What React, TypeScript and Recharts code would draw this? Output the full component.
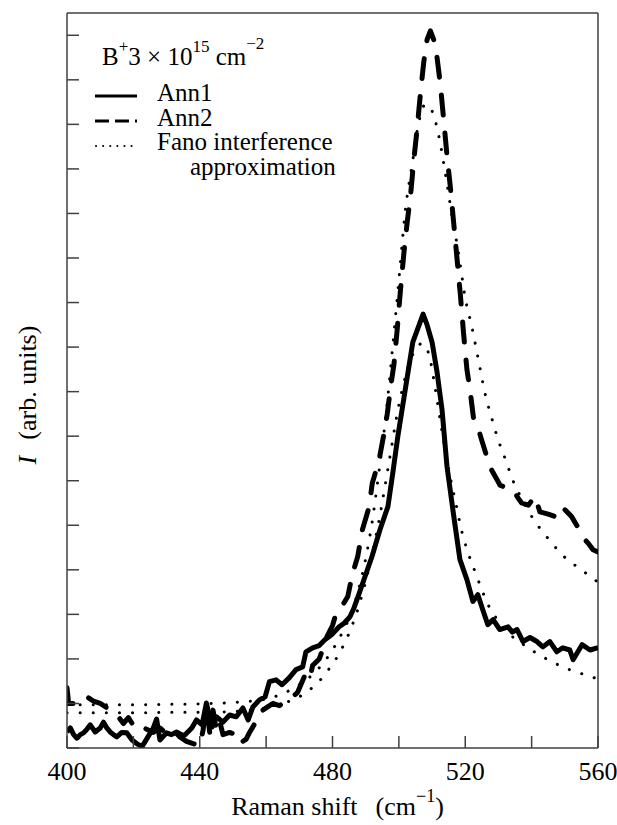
import { Label, Legend, Line, LineChart, ReferenceLine, XAxis, YAxis } from 'recharts';

// Raman spectra of B+ implanted Si (3e15 cm^-2) after two anneals, with Fano fits
type Pt = [number, number];

const SERIF = '"Liberation Serif", "Times New Roman", serif';
const AXIS_COLOR = '#404040';

// [Raman shift (cm^-1), intensity (arb. units)]
const ANN1: Pt[] = [
  [400, 0.36], [401, 0.45], [402, 0.3], [403, 0.22], [404, 0.3], [405, 0.34], [406, 0.42],
  [407, 0.52], [408.5, 0.36], [410, 0.45], [411, 0.58], [412, 0.45], [413, 0.36], [414, 0.3],
  [415, 0.25], [416.5, 0.35], [418, 0.34], [419.6, 0.18], [421, 0.1], [422.6, 0.03],
  [424.4, 0.25], [426, 0.45], [427, 0.65], [428, 0.18], [430, 0.34], [431.5, 0.3], [433, 0.36],
  [434.5, 0.3], [435.5, 0.29], [437.6, 0.45], [439, 0.63], [440.7, 0.52], [442, 1.01],
  [443.7, 0.47], [445, 0.7], [447, 0.58], [449, 0.74], [451, 0.7], [453, 0.9], [454.6, 0.63],
  [456, 0.92], [458, 1.08], [459.7, 1.15], [461, 1.49], [463, 1.53], [464.8, 1.42], [467, 1.58],
  [469, 1.76], [471, 1.82], [472, 2.16], [474, 2.25], [476, 2.3], [477.7, 2.43], [479.8, 2.55],
  [482, 2.72], [483.5, 2.8], [485.3, 2.95], [486.5, 3.15], [487.7, 3.4], [489.8, 3.85],
  [491.9, 4.3], [494.3, 4.9], [496.7, 5.42], [498.2, 6.19], [499.7, 7.0], [501.8, 7.99],
  [504.2, 9.11], [507.3, 9.74], [508.5, 9.5], [510, 9.11], [511.5, 8.44], [513, 7.6],
  [514.5, 6.32], [516.4, 5.28], [518.4, 4.23], [520.5, 3.78], [522.3, 3.29], [523.8, 3.44],
  [525.3, 3.1], [526.8, 2.77], [528.4, 2.88], [530.4, 2.66], [532.9, 2.72], [534.2, 2.6],
  [535.6, 2.66], [537.4, 2.39], [539.5, 2.48], [541.6, 2.39], [543.4, 2.27], [545.5, 2.39],
  [547.6, 2.16], [549.4, 2.25], [551.5, 2.2], [552.5, 1.98], [555.2, 2.32], [557.6, 2.2],
  [560, 2.25],
];

const ANN2: Pt[] = [
  [400, 1.35], [400.5, 1.0], [402, 1.0], [404, 1.12], [406, 1.15], [408, 1.05], [410, 1.0],
  [411.5, 0.93], [413, 0.85], [415, 0.75], [417, 0.55], [418.5, 0.68], [420.5, 0.45], [422, 0.5],
  [424, 0.42], [426, 0.35], [428, 0.45], [430, 0.32], [432, 0.4], [434, 0.25], [436, 0.15],
  [438, 0.1], [440, 0.05], [441, 0.4], [442, 0.98], [443, 0.35], [444, 0.85], [445, 0.4],
  [446, 0.6], [447, 0.3], [449, 0.35], [451, 0.3], [452, 0.35], [453, 0.15], [454, 0.2],
  [455, 0.35], [457, 0.6], [458, 0.8], [460, 0.9], [462, 1.0], [464, 0.95], [466.5, 1.08],
  [468, 1.15], [469.5, 1.25], [471.5, 1.6], [473, 1.5], [474, 1.85], [476, 2.0], [477, 2.2],
  [478, 2.45], [480, 2.75], [481, 3.0], [483, 3.2], [484.6, 3.4], [486, 3.9], [487.6, 4.3],
  [489, 4.9], [491, 5.4], [492, 5.95], [494, 6.45], [495.5, 7.05], [496.5, 7.5], [497.5, 8.1],
  [498.5, 8.6], [499.5, 9.4], [500.5, 10.3], [501.5, 11.1], [502.5, 11.8], [503.5, 12.4],
  [504.5, 13.2], [505.5, 13.9], [506.5, 14.7], [507.5, 15.4], [508.5, 15.9], [509.5, 16.1],
  [510.5, 15.9], [511.5, 15.5], [512.5, 14.9], [513.5, 14.1], [514.5, 13.3], [515.5, 12.6],
  [516.5, 11.8], [517.5, 11.0], [518.5, 10.2], [519.5, 9.3], [520.5, 8.5], [521.5, 8.0],
  [522.5, 7.4], [524, 7.15], [525, 6.9], [527.5, 6.3], [529, 6.1], [530.5, 5.9], [532, 5.85],
  [534.4, 5.8], [536, 5.6], [537, 5.5], [539, 5.45], [541, 5.65], [542.5, 5.3], [545, 5.25],
  [547, 5.2], [548.5, 5.42], [550, 5.35], [552, 5.2], [554, 4.95], [555.5, 4.72], [557, 4.6],
  [558.5, 4.45], [560, 4.4],
];

const FANO_ANN2: Pt[] = [
  [400, 0.97], [410, 0.97], [420, 0.97], [430, 0.98], [440, 0.99], [450, 1.02], [455, 1.05],
  [460, 1.1], [465, 1.22], [470, 1.42], [475, 1.72], [480, 2.2], [483, 2.6], [486, 3.1],
  [488, 3.6], [490, 4.25], [492, 5.1], [494, 6.2], [496, 7.4], [498, 8.9], [500, 10.5],
  [502, 12.1], [504, 13.1], [506, 14.05], [508, 14.45], [510, 14.3], [512, 13.75], [514, 12.9],
  [516, 11.95], [518, 11.1], [520, 10.1], [522, 9.45], [524, 8.7], [526, 7.95], [528, 7.4],
  [530, 6.9], [532, 6.5], [534.4, 6.0], [537, 5.6], [540, 5.2], [545, 4.7], [550, 4.28],
  [555, 4.0], [560, 3.72],
];

const FANO_ANN1: Pt[] = [
  [400, 0.79], [410, 0.79], [420, 0.79], [430, 0.8], [440, 0.8], [450, 0.82], [455, 0.85],
  [460, 0.9], [465, 1.0], [470, 1.15], [473, 1.3], [476, 1.5], [479, 1.78], [482, 2.12],
  [485, 2.58], [488, 3.2], [491, 4.05], [494, 5.1], [497, 6.4], [500, 7.7], [503, 8.6],
  [505, 8.95], [507, 9.08], [509, 8.85], [511, 8.05], [513, 7.1], [515, 6.25], [517, 5.55],
  [519, 4.85], [521, 4.35], [523, 3.95], [525, 3.55], [527, 3.2], [530, 2.85], [533, 2.58],
  [537, 2.35], [541, 2.15], [545, 1.98], [550, 1.8], [555, 1.67], [560, 1.55],
];

const X_TICKS = [400, 420, 440, 460, 480, 500, 520, 540, 560];
const X_LABELS = [400, 440, 480, 520, 560];
const Y_TICKS = [0, 1, 2, 3, 4, 5, 6, 7, 8, 9, 10, 11, 12, 13, 14, 15, 16];
const Y_MAX = 16.5;

const toRows = (pts: Pt[]) => pts.map(([shift, intensity]) => ({ shift, intensity }));

function XTick({ x, y, payload }: any) {
  const show = X_LABELS.includes(payload.value);
  return (
    <text x={x} y={y} textAnchor="middle" fontFamily={SERIF} fontSize={26} fill="#000">
      {show ? payload.value : ''}
    </text>
  );
}

function XTitle({ viewBox }: any) {
  const cx = (viewBox?.x ?? 67) + (viewBox?.width ?? 531) / 2 + 5;
  const y = (viewBox?.y ?? 748) + 67;
  return (
    <text x={cx} y={y} textAnchor="middle" fontFamily={SERIF} fontSize={26} fill="#000">
      Raman shift
      <tspan dx={18}>(cm</tspan>
      <tspan dy={-13} fontSize={18}>−1</tspan>
      <tspan dy={13}>)</tspan>
    </text>
  );
}

function YTitle() {
  return (
    <text
      transform="translate(36,395) rotate(-90)"
      textAnchor="middle"
      fontFamily={SERIF}
      fontSize={26}
      fill="#000"
    >
      <tspan fontStyle="italic">I</tspan>
      <tspan dx={16}>(arb. units)</tspan>
    </text>
  );
}

function LegendBox() {
  return (
    <svg width={330} height={185} style={{ display: 'block', overflow: 'visible' }}>
      <g fontFamily={SERIF} fontSize={25} fill="#000">
        <text x={102} y={65}>
          B<tspan dy={-13} fontSize={17}>+</tspan>
          <tspan dy={13}>3 × 10</tspan>
          <tspan dy={-13} fontSize={17}>15</tspan>
          <tspan dy={13}> cm</tspan>
          <tspan dy={-16} fontSize={17}>−2</tspan>
        </text>
        <line x1={95} x2={137} y1={96} y2={96} stroke="#000" strokeWidth={3} />
        <text x={157} y={101}>Ann1</text>
        <line x1={95} x2={137} y1={121} y2={121} stroke="#000" strokeWidth={3} strokeDasharray="14 6" />
        <text x={157} y={126}>Ann2</text>
        <line
          x1={96}
          x2={134}
          y1={146}
          y2={146}
          stroke="#000"
          strokeWidth={2}
          strokeLinecap="round"
          strokeDasharray="0.1 7"
        />
        <text x={157} y={150}>Fano interference</text>
        <text x={190} y={175}>approximation</text>
      </g>
    </svg>
  );
}

export default function App() {
  return (
    <div style={{ position: 'absolute', left: 0, top: 0, width: 617, height: 825, background: '#fff' }}>
      <LineChart width={617} height={825} margin={{ top: 13, right: 19, bottom: 17, left: 7 }}>
        <XAxis
          type="number"
          dataKey="shift"
          domain={[400, 560]}
          ticks={X_TICKS}
          interval={0}
          allowDataOverflow
          height={60}
          stroke={AXIS_COLOR}
          strokeWidth={1.5}
          tickSize={-12}
          tickMargin={44}
          tick={<XTick />}
        >
          <Label content={<XTitle />} />
        </XAxis>
        <YAxis
          type="number"
          dataKey="intensity"
          domain={[0, Y_MAX]}
          ticks={Y_TICKS}
          interval={0}
          allowDataOverflow
          width={60}
          stroke={AXIS_COLOR}
          strokeWidth={1.5}
          tickSize={-12}
          tickFormatter={() => ''}
        >
          <Label content={<YTitle />} />
        </YAxis>
        <ReferenceLine x={560} stroke={AXIS_COLOR} strokeWidth={1.5} />
        <ReferenceLine y={Y_MAX} stroke={AXIS_COLOR} strokeWidth={1.5} />
        <Legend
          layout="vertical"
          align="center"
          verticalAlign="middle"
          content={<LegendBox />}
          wrapperStyle={{ left: 0, top: 0, width: 330, height: 185 }}
        />
        <Line
          data={toRows(FANO_ANN2)}
          dataKey="intensity"
          type="monotone"
          stroke="#000"
          strokeWidth={3}
          strokeLinecap="round"
          strokeDasharray="0.1 13"
          dot={false}
          activeDot={false}
          isAnimationActive={false}
        />
        <Line
          data={toRows(FANO_ANN1)}
          dataKey="intensity"
          type="monotone"
          stroke="#000"
          strokeWidth={3}
          strokeLinecap="round"
          strokeDasharray="0.1 13"
          dot={false}
          activeDot={false}
          isAnimationActive={false}
        />
        <Line
          data={toRows(ANN2)}
          dataKey="intensity"
          type="linear"
          stroke="#000"
          strokeWidth={5}
          strokeLinecap="round"
          strokeLinejoin="round"
          strokeDasharray="20 18"
          dot={false}
          activeDot={false}
          isAnimationActive={false}
        />
        <Line
          data={toRows(ANN1)}
          dataKey="intensity"
          type="linear"
          stroke="#000"
          strokeWidth={5}
          strokeLinejoin="round"
          dot={false}
          activeDot={false}
          isAnimationActive={false}
        />
      </LineChart>
    </div>
  );
}
